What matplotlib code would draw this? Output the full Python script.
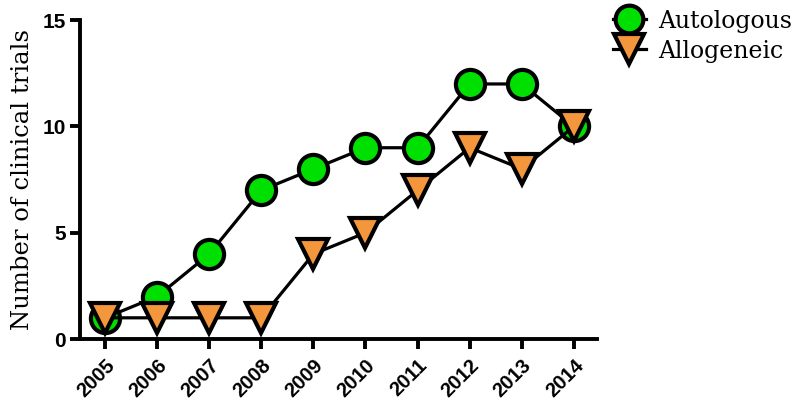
import matplotlib
matplotlib.use("Agg")
import matplotlib.pyplot as plt

years = [2005, 2006, 2007, 2008, 2009, 2010, 2011, 2012, 2013, 2014]
autologous = [1, 2, 4, 7, 8, 9, 9, 12, 12, 10]
allogeneic = [1, 1, 1, 1, 4, 5, 7, 9, 8, 10]
yticks = [0, 5, 10, 15]

fig = plt.figure(figsize=(8.0, 4.12), dpi=100)
ax = fig.add_axes([0.1, 0.177, 0.646, 0.774])

ax.plot(years, autologous, color='black', lw=2.3, marker='o', ms=21,
        mfc='#00e000', mec='black', mew=3, label='Autologous', zorder=3, clip_on=False)
ax.plot(years, allogeneic, color='black', lw=2.3, marker='v', ms=22,
        mfc='#f4963c', mec='black', mew=3, label='Allogeneic', zorder=4, clip_on=False)

ax.set_xlim(2004.52, 2014.44)
ax.set_ylim(0, 15)
ax.set_xticks(years)
ax.set_xticklabels([str(y) for y in years], rotation=45, ha='right',
                   rotation_mode='anchor', fontsize=14.5, fontweight='bold',
                   family='Liberation Sans')
ax.set_yticks(yticks)
ax.set_yticklabels([str(v) for v in yticks], fontsize=15, fontweight='bold',
                   family='Liberation Sans')
for s in ['top', 'right']:
    ax.spines[s].set_visible(False)
for s in ['left', 'bottom']:
    ax.spines[s].set_linewidth(2.8)
ax.tick_params(axis='both', direction='out', length=7, width=2.8, pad=3)
ax.tick_params(axis='x', pad=5)
ax.set_ylabel('Number of clinical trials', family='DejaVu Serif', fontsize=17.5, labelpad=6)

leg = ax.legend(loc='upper left', bbox_to_anchor=(0.99, 1.1), frameon=False,
                prop={'family': 'DejaVu Serif', 'size': 17}, handlelength=1.4,
                handletextpad=0.5, labelspacing=0.3, markerscale=0.95)

fig.savefig('out.png', dpi=100)
